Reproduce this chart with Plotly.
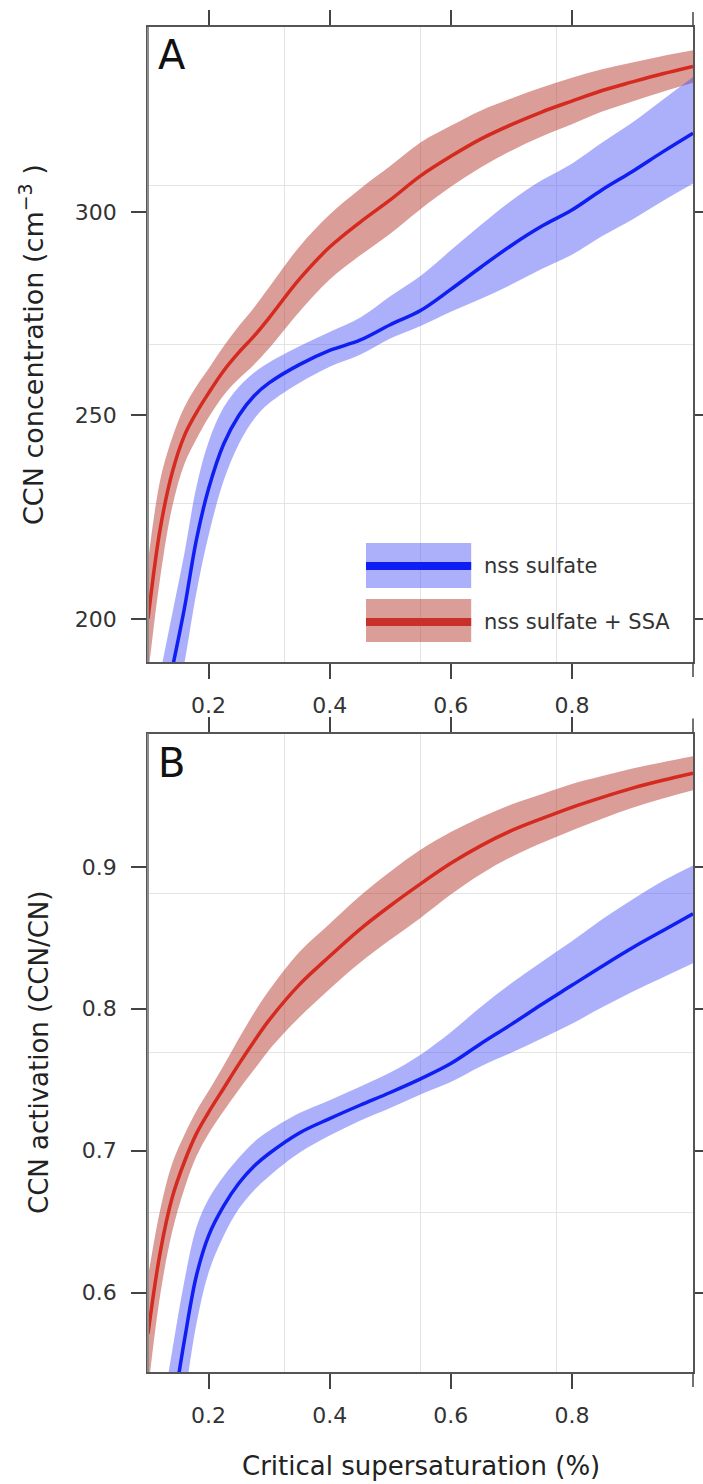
import plotly.graph_objects as go

# ---------------- data ----------------
X_RED = [0.10, 0.12, 0.14, 0.16, 0.18, 0.20, 0.225, 0.25, 0.275, 0.30, 0.35, 0.40,
         0.45, 0.50, 0.55, 0.60, 0.65, 0.70, 0.75, 0.80, 0.85, 0.90, 0.95, 1.00]
X_BLUE = [0.12, 0.14, 0.16, 0.18, 0.20, 0.225, 0.25, 0.275, 0.30, 0.35, 0.40,
          0.45, 0.50, 0.55, 0.60, 0.65, 0.70, 0.75, 0.80, 0.85, 0.90, 0.95, 1.00]

# Panel A: CCN concentration (cm^-3)
CCN_SSA = [200, 222, 236, 245, 250.7, 255.5, 261, 265.5, 269.5, 274, 283.5, 291.4,
           297.5, 303, 308.9, 313.7, 318, 321.5, 324.6, 327.3, 329.9, 332, 334, 335.8]
CCN_SSA_ERR = [14, 12, 8.5, 7, 6.5, 6, 6, 6.5, 7, 7.5, 8, 8,
               8.2, 8.3, 8.2, 7.5, 7, 6.4, 6, 5.7, 5.2, 4.8, 4.4, 4]
CCN_NSS = [173, 187.7, 202.5, 219.5, 232, 243, 250, 254.8, 258, 262.5, 266,
           268.5, 272.3, 275.8, 281, 286.5, 291.8, 296.5, 300.5, 305.5, 310, 314.8, 319.4]
CCN_NSS_ERR_UP = [13.5, 13.5, 13.5, 13, 11.5, 9, 7, 5.7, 5, 4.5, 4.5,
                  5.5, 7, 8.5, 9.6, 10.4, 11, 11.3, 11.4, 11.6, 12, 12.8, 13.8]
CCN_NSS_ERR_LO = [13.5, 13.5, 13.5, 13, 11.5, 9, 7, 5.7, 5, 4.5, 4,
                  3.6, 3.4, 3.8, 5.5, 7.8, 9.6, 10.5, 11, 11.4, 11.8, 12.1, 12.4]

# Panel B: CCN activation (CCN/CN)
ACT_SSA = [0.571, 0.628, 0.667, 0.692, 0.712, 0.727, 0.744, 0.761, 0.777, 0.792, 0.817, 0.837,
           0.856, 0.8726, 0.888, 0.9025, 0.915, 0.9255, 0.934, 0.942, 0.949, 0.9555, 0.961, 0.966]
ACT_SSA_ERR = [0.04, 0.03, 0.024, 0.019, 0.016, 0.015, 0.016, 0.018, 0.02, 0.021, 0.023, 0.023,
               0.0235, 0.024, 0.024, 0.022, 0.020, 0.0185, 0.0172, 0.0164, 0.015, 0.0138, 0.0128, 0.012]
ACT_NSS = [0.46, 0.513, 0.566, 0.612, 0.640, 0.661, 0.677, 0.689, 0.698, 0.7125, 0.7226,
           0.732, 0.741, 0.7506, 0.7614, 0.7755, 0.789, 0.803, 0.8165, 0.830, 0.843, 0.855, 0.867]
ACT_NSS_ERR_UP = [0.048, 0.046, 0.042, 0.034, 0.026, 0.021, 0.018, 0.017, 0.016, 0.014, 0.013,
                  0.013, 0.014, 0.017, 0.022, 0.026, 0.029, 0.030, 0.031, 0.033, 0.034, 0.035, 0.034]
ACT_NSS_ERR_LO = [0.048, 0.046, 0.042, 0.034, 0.026, 0.021, 0.018, 0.017, 0.016, 0.014, 0.012,
                  0.011, 0.011, 0.011, 0.013, 0.016, 0.020, 0.024, 0.027, 0.029, 0.031, 0.033, 0.035]

SERIES_NAMES = ["nss sulfate", "nss sulfate + SSA"]
X_TICKS = [0.2, 0.4, 0.6, 0.8]
X_TICKTEXT = ["0.2", "0.4", "0.6", "0.8"]
Y_TICKS_A = [200, 250, 300]
Y_TICKS_B = [0.6, 0.7, 0.8, 0.9]
X_RANGE = [0.1, 1.0]
Y_RANGE_A = [189.4, 345.5]
Y_RANGE_B = [0.544, 0.994]

# ---------------- styles ----------------
FONT = "DejaVu Sans"
RED_LINE = "#d42a20"
BLUE_LINE = "#0f1ef2"
RED_BAND = "rgba(180,50,40,0.48)"
BLUE_BAND = "rgba(70,80,245,0.45)"
GRID = "#e4e4e4"
AXIS = "#555555"
TICKLEN = 15


def quarters(r):
    return [r[0] + k * (r[1] - r[0]) / 4 for k in (1, 2, 3)]


fig = go.Figure()


def add_band(x, lo, hi, color, xa, ya):
    fig.add_trace(go.Scatter(x=x, y=lo, mode="lines", line=dict(width=0, shape="spline", color=color),
                             xaxis=xa, yaxis=ya, showlegend=False, hoverinfo="skip"))
    fig.add_trace(go.Scatter(x=x, y=hi, mode="lines", line=dict(width=0, shape="spline", color=color),
                             fill="tonexty", fillcolor=color,
                             xaxis=xa, yaxis=ya, showlegend=False, hoverinfo="skip"))


def add_line(x, y, color, xa, ya, name):
    fig.add_trace(go.Scatter(x=x, y=y, mode="lines", name=name,
                             line=dict(width=3.5, shape="spline", color=color),
                             xaxis=xa, yaxis=ya, showlegend=False))


for xa, ya, ssa, ssa_err, nss, nss_up, nss_lo in [
    ("x", "y", CCN_SSA, CCN_SSA_ERR, CCN_NSS, CCN_NSS_ERR_UP, CCN_NSS_ERR_LO),
    ("x2", "y2", ACT_SSA, ACT_SSA_ERR, ACT_NSS, ACT_NSS_ERR_UP, ACT_NSS_ERR_LO),
]:
    add_band(X_RED, [v - e for v, e in zip(ssa, ssa_err)], [v + e for v, e in zip(ssa, ssa_err)],
             RED_BAND, xa, ya)
    add_band(X_BLUE, [v - e for v, e in zip(nss, nss_lo)], [v + e for v, e in zip(nss, nss_up)],
             BLUE_BAND, xa, ya)
    add_line(X_RED, ssa, RED_LINE, xa, ya, SERIES_NAMES[1])
    add_line(X_BLUE, nss, BLUE_LINE, xa, ya, SERIES_NAMES[0])


def xaxis_cfg(anchor):
    return dict(range=X_RANGE, tickvals=X_TICKS, ticktext=X_TICKTEXT, anchor=anchor,
                ticks="outside", ticklen=TICKLEN, tickwidth=1.5, tickcolor="#444",
                showline=True, linecolor=AXIS, linewidth=1.5, mirror="ticks",
                showgrid=False, zeroline=False, automargin=False,
                tickfont=dict(family=FONT, size=22, color="#333"), ticklabelstandoff=8,
                minor=dict(tickvals=quarters(X_RANGE), showgrid=True, gridcolor=GRID,
                           gridwidth=1, ticks=""))


def yaxis_cfg(rng, ticks, domain, anchor):
    return dict(range=rng, tickvals=ticks, domain=domain, anchor=anchor,
                ticks="outside", ticklen=TICKLEN, tickwidth=1.5, tickcolor="#444",
                showline=True, linecolor=AXIS, linewidth=1.5, mirror="ticks",
                showgrid=False, zeroline=False, automargin=False,
                tickfont=dict(family=FONT, size=22, color="#333"), ticklabelstandoff=10,
                minor=dict(tickvals=quarters(rng), showgrid=True, gridcolor=GRID,
                           gridwidth=1, ticks=""))


H = 1484
T, B = 27, 112
plot_h = H - T - B
A_BOTTOM_PX, B_TOP_PX = 662, 733.5
A_DOMAIN = [(H - B - A_BOTTOM_PX) / plot_h, 1.0]
B_DOMAIN = [0.0, (H - B - B_TOP_PX) / plot_h]

fig.update_layout(
    width=703, height=H,
    margin=dict(l=148, r=10, t=T, b=B, pad=0),
    paper_bgcolor="white", plot_bgcolor="white",
    font=dict(family=FONT, color="#222"),
    showlegend=False,
    xaxis=xaxis_cfg("y"),
    yaxis=yaxis_cfg(Y_RANGE_A, Y_TICKS_A, A_DOMAIN, "x"),
    xaxis2=xaxis_cfg("y2"),
    yaxis2=yaxis_cfg(Y_RANGE_B, Y_TICKS_B, B_DOMAIN, "x2"),
)

# lighter left frame line + unlabeled tick marks at the right end (x = 1.0), as in the reference
for xr, yr, dom in [("x domain", "y domain", A_DOMAIN), ("x2 domain", "y2 domain", B_DOMAIN)]:
    fig.add_shape(type="line", xref=xr, yref=yr, x0=0, x1=0, y0=0, y1=1,
                  line=dict(color="#8c8c8c", width=2))
    tl = TICKLEN / ((dom[1] - dom[0]) * plot_h)
    for y0, y1 in [(0, -tl), (1, 1 + tl)]:
        fig.add_shape(type="line", xref=xr, yref=yr, x0=1, x1=1, y0=y0, y1=y1,
                      line=dict(color="#444", width=1.5))

# Panel letters
fig.add_annotation(text="A", xref="x domain", yref="y domain", x=0.015, y=0.956,
                   xanchor="left", yanchor="middle", showarrow=False,
                   font=dict(family=FONT, size=40, color="#111"))
fig.add_annotation(text="B", xref="x2 domain", yref="y2 domain", x=0.015, y=0.954,
                   xanchor="left", yanchor="middle", showarrow=False,
                   font=dict(family=FONT, size=40, color="#111"))


def px_x(px):
    return (px - 148) / 545


def px_y(py):
    return (H - B - py) / plot_h


# Axis titles
fig.add_annotation(text="CCN concentration (cm<sup>−3</sup> )", xref="paper", yref="paper",
                   x=px_x(31), y=px_y(345), textangle=-90, showarrow=False,
                   xanchor="center", yanchor="middle",
                   font=dict(family=FONT, size=27, color="#222"))
fig.add_annotation(text="CCN activation (CCN/CN)", xref="paper", yref="paper",
                   x=px_x(39), y=px_y(1053), textangle=-90, showarrow=False,
                   xanchor="center", yanchor="middle",
                   font=dict(family=FONT, size=26, color="#222"))
fig.add_annotation(text="Critical supersaturation (%)", xref="paper", yref="paper",
                   x=px_x(421), y=px_y(1466), showarrow=False,
                   xanchor="center", yanchor="middle",
                   font=dict(family=FONT, size=26, color="#222"))

# Legend (drawn manually inside panel A)
LEG_X0, LEG_X1 = 0.40, 0.593
for (y0, y1, ym, band, line, label) in [
    (0.1165, 0.1874, 0.151, BLUE_BAND, BLUE_LINE, SERIES_NAMES[0]),
    (0.0315, 0.0992, 0.063, RED_BAND, "#c8302a", SERIES_NAMES[1]),
]:
    fig.add_shape(type="rect", xref="x domain", yref="y domain", x0=LEG_X0, x1=LEG_X1,
                  y0=y0, y1=y1, fillcolor=band, line=dict(width=0))
    fig.add_shape(type="line", xref="x domain", yref="y domain", x0=LEG_X0, x1=LEG_X1,
                  y0=ym, y1=ym, line=dict(color=line, width=8))
    fig.add_annotation(text=label, xref="x domain", yref="y domain", x=0.612, y=ym,
                       xanchor="left", yanchor="middle", showarrow=False,
                       font=dict(family=FONT, size=21, color="#333"))

fig.write_html("out.html")
